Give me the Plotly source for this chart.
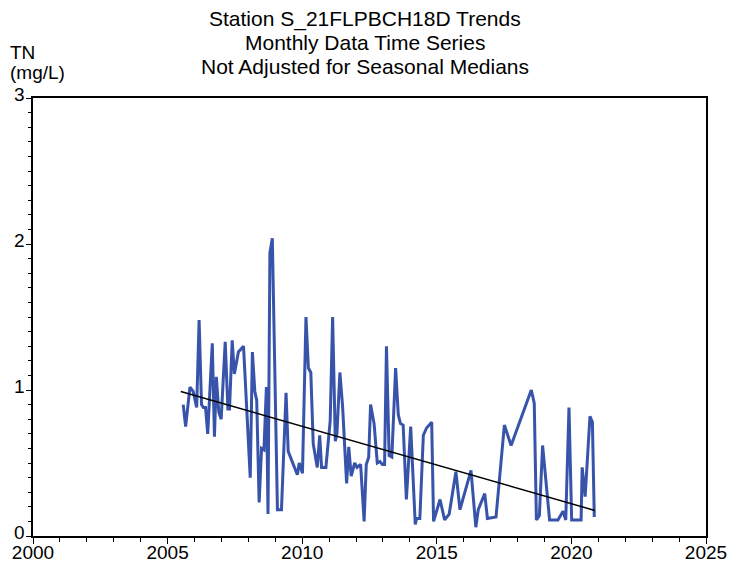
import plotly.graph_objects as go

# Monthly TN samples (decimal year, mg/L)
sample_years = [
    2005.58, 2005.67, 2005.83, 2005.95, 2006.08, 2006.17, 2006.26, 2006.33, 2006.41, 2006.49,
    2006.66, 2006.74, 2006.81, 2006.90, 2006.99, 2007.14, 2007.24, 2007.30, 2007.40, 2007.48,
    2007.63, 2007.82, 2008.07, 2008.15, 2008.24, 2008.31, 2008.40, 2008.49, 2008.58, 2008.67,
    2008.73, 2008.80, 2008.89, 2009.08, 2009.23, 2009.40, 2009.48, 2009.82, 2009.89, 2010.01,
    2010.14, 2010.23, 2010.32, 2010.41, 2010.56, 2010.65, 2010.72, 2010.88, 2011.04, 2011.13,
    2011.23, 2011.29, 2011.40, 2011.50, 2011.65, 2011.73, 2011.82, 2011.95, 2012.04, 2012.17,
    2012.30, 2012.38, 2012.47, 2012.54, 2012.67, 2012.79, 2012.89, 2012.98, 2013.06, 2013.13,
    2013.23, 2013.33, 2013.47, 2013.57, 2013.65, 2013.75, 2013.87, 2014.03, 2014.20, 2014.25,
    2014.37, 2014.50, 2014.62, 2014.81, 2014.88, 2015.12, 2015.29, 2015.46, 2015.71, 2015.86,
    2016.27, 2016.45, 2016.54, 2016.78, 2016.88, 2017.20, 2017.51, 2017.76, 2018.51, 2018.62,
    2018.70, 2018.81, 2018.93, 2019.19, 2019.50, 2019.69, 2019.79, 2019.91, 2020.01, 2020.36,
    2020.40, 2020.51, 2020.69, 2020.78, 2020.85,
]
tn_values = [
    0.90, 0.75, 1.02, 0.99, 0.88, 1.48, 0.90, 0.88, 0.88, 0.70,
    1.32, 0.68, 1.09, 0.85, 0.80, 1.33, 0.87, 0.87, 1.34, 1.11,
    1.26, 1.30, 0.40, 1.26, 0.99, 0.93, 0.23, 0.60, 0.59, 1.02,
    0.15, 1.94, 2.04, 0.18, 0.18, 0.98, 0.58, 0.42, 0.50, 0.43,
    1.50, 1.15, 1.12, 0.63, 0.47, 0.69, 0.47, 0.47, 0.79, 1.50,
    0.65, 0.70, 1.12, 0.89, 0.36, 0.61, 0.41, 0.50, 0.47, 0.49,
    0.10, 0.49, 0.54, 0.90, 0.77, 0.50, 0.51, 0.49, 0.49, 1.30,
    0.55, 0.54, 1.15, 0.83, 0.77, 0.76, 0.25, 0.75, 0.08, 0.12,
    0.12, 0.69, 0.74, 0.78, 0.10, 0.25, 0.11, 0.15, 0.44, 0.18,
    0.45, 0.06, 0.18, 0.29, 0.12, 0.13, 0.76, 0.62, 1.00, 0.91,
    0.11, 0.14, 0.62, 0.11, 0.11, 0.17, 0.11, 0.88, 0.11, 0.11,
    0.47, 0.27, 0.82, 0.78, 0.13,
]

# Fitted trend line end points
trend_years = [2005.49, 2020.87]
trend_values = [0.99, 0.175]

x_ticks = [2000, 2005, 2010, 2015, 2020, 2025]
y_ticks = [0, 1, 2, 3]

title_lines = [
    "Station S_21FLPBCH18D Trends",
    "Monthly Data Time Series",
    "Not Adjusted for Seasonal Medians",
]
y_title_lines = ["TN", "(mg/L)"]

FONT = "Liberation Sans, Arial, sans-serif"

fig = go.Figure()
fig.add_trace(go.Scatter(
    x=sample_years, y=tn_values, mode="lines",
    line=dict(color="#3853aa", width=3),
    showlegend=False, hoverinfo="x+y",
))
fig.add_trace(go.Scatter(
    x=trend_years, y=trend_values, mode="lines",
    line=dict(color="black", width=1.5),
    showlegend=False, hoverinfo="x+y",
))

# Title block, centred over the page, one line per annotation
annotations = []
for i, line in enumerate(title_lines):
    annotations.append(dict(
        text=line, xref="paper", yref="paper",
        x=0.4926, y=1.1813 - i * 0.0547, xanchor="center", yanchor="middle",
        showarrow=False, font=dict(family=FONT, size=21, color="black"),
    ))
# Axis label stacked above the y axis
for i, line in enumerate(y_title_lines):
    annotations.append(dict(
        text=line, xref="paper", yref="paper",
        x=-0.037, y=1.1038 - i * 0.0457, xanchor="left", yanchor="middle",
        showarrow=False, font=dict(family=FONT, size=19, color="black"),
    ))
# Y tick labels, sitting just above their ticks
for v in y_ticks:
    annotations.append(dict(
        text=str(v), xref="paper", yref="y",
        x=-0.0095, y=v, xanchor="right", yanchor="middle", yshift=4,
        showarrow=False, font=dict(family=FONT, size=19, color="black"),
    ))

fig.update_layout(
    width=729, height=562,
    margin=dict(l=33, r=23, t=98, b=26),
    paper_bgcolor="white", plot_bgcolor="white",
    font=dict(family=FONT, color="black", size=19),
    annotations=annotations,
)

fig.update_xaxes(
    range=[2000, 2025], tickvals=x_ticks, ticktext=[str(v) for v in x_ticks],
    ticks="outside", ticklen=6, tickwidth=1.3, tickcolor="black",
    ticklabelstandoff=-8,
    minor=dict(dtick=1, ticks="outside", ticklen=4, tickwidth=1, tickcolor="black"),
    showline=True, linecolor="black", linewidth=1.5, mirror=True,
    showgrid=False, zeroline=False, tickfont=dict(size=19), automargin=False,
)
fig.update_yaxes(
    range=[0, 3], tickvals=y_ticks, showticklabels=False,
    ticks="outside", ticklen=5, tickwidth=1.3, tickcolor="black",
    minor=dict(dtick=0.1, ticks="outside", ticklen=3, tickwidth=1, tickcolor="black"),
    showline=True, linecolor="black", linewidth=1.5, mirror=True,
    showgrid=False, zeroline=False, automargin=False,
)

fig.write_html("out.html")
